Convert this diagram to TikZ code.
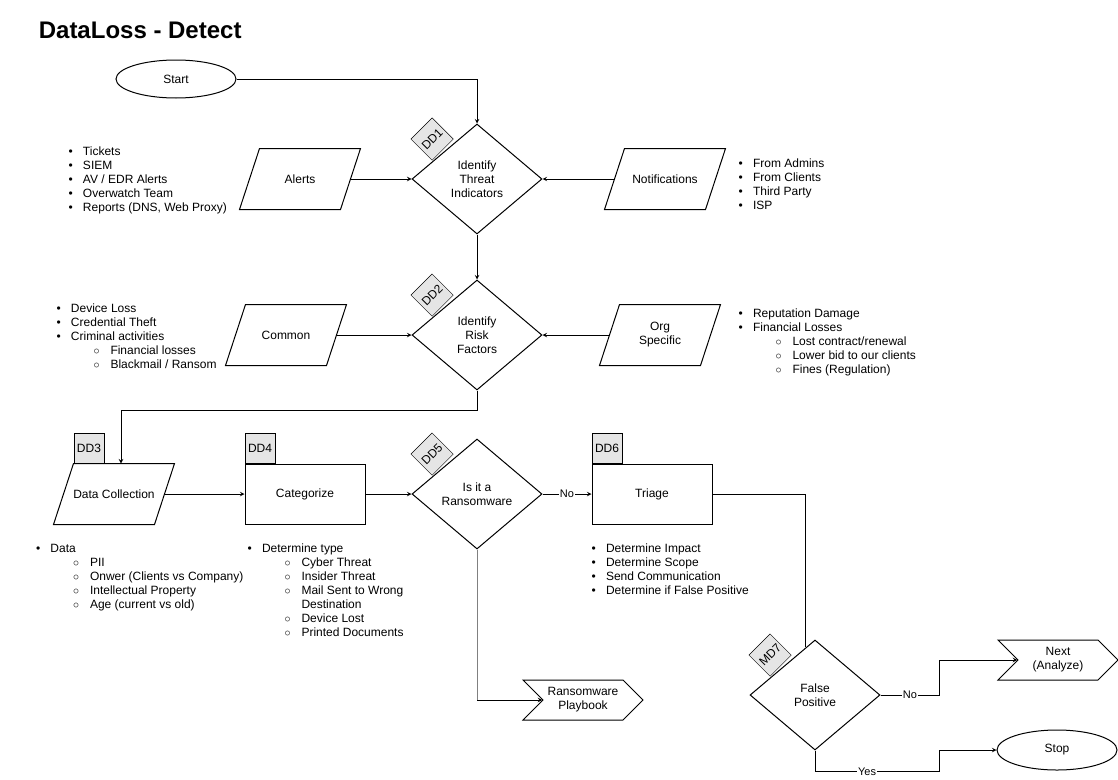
\documentclass[tikz,border=0pt]{standalone}
\usepackage{fontspec}
\setmainfont{Liberation Sans}
\usetikzlibrary{positioning}
\usetikzlibrary{calc}
\usetikzlibrary{shapes.geometric,shapes.symbols}
\usetikzlibrary{backgrounds}
\tikzset{>=stealth}
\tikzset{
	every node/.style={font=\fontsize{12}{14}\selectfont},
	% shapes of the flow chart
	decision/.style={diamond,draw,fill=white,minimum width=130,minimum height=110,inner sep=0pt,align=center},
	data/.style={rectangle,minimum width=100,minimum height=60,inner sep=0pt,align=center},
	proc/.style={rectangle,draw,fill=white,minimum width=120,minimum height=60,align=center},
	term/.style={ellipse,draw,fill=white,minimum width=120,minimum height=38},
	offpage/.style={signal,signal to=east,signal from=west,signal pointer angle=90,
		draw,fill=white,minimum width=120,minimum height=40,inner sep=1pt,align=center},
	tag/.style={draw,fill=gray!20,minimum width=30,minimum height=30,inner sep=0pt},
	% bullet lists and edge labels
	notes/.style={anchor=north west,inner sep=0pt,align=left},
	lbl/.style={fill=white,inner sep=1pt,font=\fontsize{11}{13}\selectfont},
}
\newcommand{\itm}{\makebox[14.5pt][l]{\textbullet}}
\newcommand{\subitm}{\hspace*{37pt}\makebox[17pt][l]{$\circ$}}
\newcommand{\subgap}{\hspace*{54pt}}
% slanted outline round a data node
\newcommand{\paraedge}[1]{\draw ($(#1.north west)+(10,0)$) -- ($(#1.north east)+(10,0)$)
	-- ($(#1.south east)+(-10,0)$) -- ($(#1.south west)+(-10,0)$) -- cycle;}

\begin{document}
\begin{tikzpicture}[x=1pt,y=-1pt,line width=1pt]
\useasboundingbox (0,0) rectangle (1118,779);
% title
\node[anchor=west,font=\bfseries\fontsize{24}{28}\selectfont] (title) at (35,30) {DataLoss - Detect};
% first row: threat indicators
\node[term] (start) at (176,79) {Start};
\node[decision] (dd1) at (477,179) {Identify\\Threat\\Indicators};
\node[data] (alerts) at (300,179) {Alerts};
\node[data] (notif) at (665,179) {Notifications};
\paraedge{alerts}
\paraedge{notif}
\node[notes] (alertlist) at (68,146.5) {\itm Tickets\\ \itm SIEM\\ \itm AV / EDR Alerts\\ \itm Overwatch Team\\ \itm Reports (DNS, Web Proxy)};
\node[notes] (notiflist) at (738,158.5) {\itm From Admins\\ \itm From Clients\\ \itm Third Party\\ \itm ISP};
% second row: risk factors
\node[decision] (dd2) at (477,335) {Identify\\Risk\\Factors};
\node[data] (common) at (286,335) {Common};
\node[data] (org) at (660,335) {Org\\Specific};
\paraedge{common}
\paraedge{org}
\node[notes] (commonlist) at (56,303.5) {\itm Device Loss\\ \itm Credential Theft\\ \itm Criminal activities\\ \subitm Financial losses\\ \subitm Blackmail / Ransom};
\node[notes] (orglist) at (738,308.5) {\itm Reputation Damage\\ \itm Financial Losses\\ \subitm Lost contract/renewal\\ \subitm Lower bid to our clients\\ \subitm Fines (Regulation)};
% third row
\node[data] (dc) at (114,494) {Data Collection};
\paraedge{dc}
\node[proc] (cat) at (305,494) {Categorize};
\node[decision] (dd5) at (477,494) {Is it a\\Ransomware};
\node[proc] (triage) at (652,494) {Triage};
\node[notes] (dclist) at (35.5,543.5) {\itm Data\\ \subitm PII\\ \subitm Onwer (Clients vs Company)\\ \subitm Intellectual Property\\ \subitm Age (current vs old)};
\node[notes] (catlist) at (247,543.5) {\itm Determine type\\ \subitm Cyber Threat\\ \subitm Insider Threat\\ \subitm Mail Sent to Wrong\\ \subgap Destination\\ \subitm Device Lost\\ \subitm Printed Documents};
\node[notes] (triagelist) at (591,543.5) {\itm Determine Impact\\ \itm Determine Scope\\ \itm Send Communication\\ \itm Determine if False Positive};
% end points
\node[offpage] (play) at (583,700) {Ransomware\\Playbook};
\node[decision] (md7) at (815,695) {False\\Positive};
\node[offpage] (next) at (1058,660) {Next\\(Analyze)};
\node[term,minimum height=40] (stop) at (1057,750) {Stop};
% step tags
\begin{scope}[on background layer]
\node[tag,rotate=45,anchor=south,yshift=2] (dd1tag) at ($(dd1.west)!0.5!(dd1.north)$) {DD1};
\node[tag,rotate=45,anchor=south,yshift=2] (dd2tag) at ($(dd2.west)!0.5!(dd2.north)$) {DD2};
\node[tag,rotate=45,anchor=south,yshift=2] (dd5tag) at ($(dd5.west)!0.5!(dd5.north)$) {DD5};
\node[tag,rotate=45,anchor=south,yshift=2] (md7tag) at ($(md7.west)!0.5!(md7.north)$) {MD7};
\end{scope}
\node[tag,anchor=south west] (dd3tag) at ($(dc.north west)+(10,0)$) {DD3};
\node[tag,anchor=south west] (dd4tag) at (cat.north west) {DD4};
\node[tag,anchor=south west] (dd6tag) at (triage.north west) {DD6};
% connectors
\draw[->] (start.east) -| (dd1.north);
\draw[->] (alerts.east) -- (dd1.west);
\draw[->] (notif.west) -- (dd1.east);
\draw[->] (dd1.south) -- (dd2.north);
\draw[->] (common.east) -- (dd2.west);
\draw[->] (org.west) -- (dd2.east);
\coordinate (dctop) at ($(dc.north)+(7,0)$);
\draw[->] (dd2.south) -- ++(0,20) -| (dctop);
\draw[->] (dc.east) -- (cat.west);
\draw[->] (cat.east) -- (dd5.west);
\draw[->] (dd5.east) -- node[lbl] {No} (triage.west);
\draw[gray] (dd5.south) -- (dd5.south |- play.west);
\draw[->] (dd5.south |- play.west) -- (play.west);
\coordinate (md7in) at ($(md7.west)!0.86!(md7.north)$);
\draw (triage.east) -| (md7in);
\draw[->] (md7.east) -- node[lbl] {No} ++(59,0) |- (next.west);
\draw[->] (md7.south) |- node[lbl,pos=0.71] {Yes} ($(md7.south)+(124,21)$) |- (stop.west);
\end{tikzpicture}
\end{document}
